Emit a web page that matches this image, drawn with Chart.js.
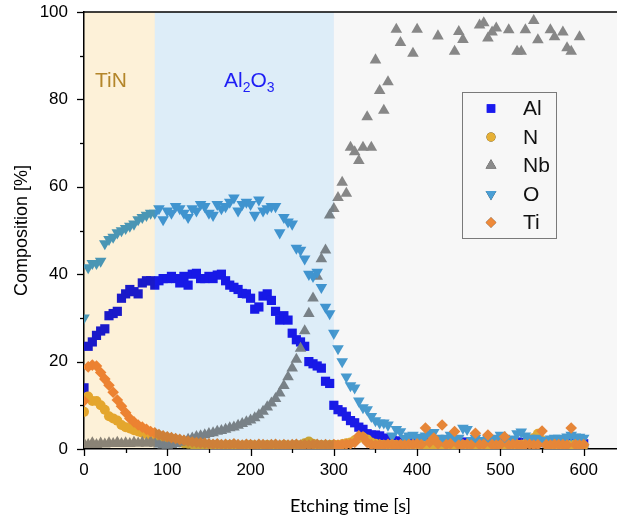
<!DOCTYPE html>
<html>
<head>
<meta charset="utf-8">
<script src="https://cdn.jsdelivr.net/npm/chart.js@4.4.1/dist/chart.umd.min.js"></script>
<style>
    html, body { margin: 0; padding: 0; background: #fff; }
    #wrap { width: 617px; height: 525px; }
</style>
</head>
<body>
<div id="wrap"><canvas id="myChartDepth" width="617" height="525"></canvas></div>
<script>
// etching time [s]
var time = [
    0, 5, 10, 15, 20, 25, 30, 35, 40, 45,
    50, 55, 60, 65, 70, 75, 80, 85, 90, 95,
    100, 105, 110, 115, 120, 125, 130, 135, 140, 145,
    150, 155, 160, 165, 170, 175, 180, 185, 190, 195,
    200, 205, 210, 215, 220, 225, 230, 235, 240, 245,
    250, 255, 260, 265, 270, 275, 280, 285, 290, 295,
    300, 305, 310, 315, 320, 325, 330, 335, 340, 345,
    350, 355, 360, 365, 370, 375, 380, 385, 390, 395,
    400, 405, 410, 415, 420, 425, 430, 435, 440, 445,
    450, 455, 460, 465, 470, 475, 480, 485, 490, 495,
    500, 505, 510, 515, 520, 525, 530, 535, 540, 545,
    550, 555, 560, 565, 570, 575, 580, 585, 590, 595,
    600
];

// composition [%]
var al = [
    14, 23.5, 24.5, 26, 27, 27.5, 30.5, 31, 31.5, 34.5,
    35.5, 36.5, 36, 35.5, 38, 38.5, 38.5, 37.5, 38.5, 39,
    39, 39.5, 39, 38, 39.5, 37.5, 40, 40.2, 39, 39,
    39.5, 39, 39.8, 40, 38.5, 37.5, 37, 36.5, 35.6, 35.5,
    34.5, 32, 32.5, 35, 35.5, 34, 31.5, 29.5, 30.5, 29.5,
    26.5, 25, 24.5, 23.5, 20, 19.5, 19, 18.5, 15.5, 15,
    10, 9, 8.5, 7.5, 6.5, 6, 5, 4.5, 3.5, 3.2,
    3.2, 3, 2.5, 2.2, 2, 1.8, 1.8, 1.6, 1.5, 1.7,
    1.5, 1.4, 1.6, 1.5, 1.3, 1.5, 1.6, 1.4, 1.5, 1.3,
    1.5, 1.4, 1.6, 1.5, 1.4, 1.3, 1.5, 1.6, 1.4, 1.5,
    1.5, 1.4, 1.3, 1.5, 1.6, 1.4, 1.5, 1.3, 1.4, 1.5,
    1.6, 1.4, 1.5, 1.3, 1.4, 1.5, 1.4, 1.6, 1.3, 1.5,
    1.2
];

var n = [
    8.5, 12, 11, 11, 10, 9, 7.5, 7, 6.5, 5.5,
    5, 4.7, 4.3, 4, 3.7, 3.4, 3.1, 2.8, 2.5, 2.3,
    2.1, 1.9, 1.7, 1.5, 1.3, 1.2, 1.1, 1, 0.9, 0.9,
    0.8, 0.9, 0.8, 0.7, 0.8, 0.9, 0.8, 0.7, 0.8, 0.8,
    0.9, 0.8, 0.7, 0.8, 0.9, 0.8, 0.8, 0.7, 0.9, 0.8,
    0.8, 0.9, 0.8, 1.3, 1.7, 1.2, 0.8, 0.9, 0.8, 0.9,
    1, 0.9, 1.1, 1.3, 1.5, 2, 2.5, 2.7, 2.2, 1.5,
    1.2, 1, 0.9, 0.8, 1, 0.9, 0.8, 1, 0.9, 0.8,
    0.9, 1, 0.8, 0.9, 1, 0.8, 0.9, 1.1, 0.9, 0.8,
    1, 0.9, 0.8, 1, 0.9, 1.1, 0.8, 0.9, 1, 0.9,
    0.8, 1, 0.9, 1.1, 1, 0.9, 1.2, 1.5, 2.5, 3.5,
    2, 1.1, 0.9, 1, 0.8, 0.9, 1, 0.9, 1.1, 0.9,
    0.8
];

var nb = [
    1.2, 1, 1.4, 1, 1.3, 1.1, 1.4, 1.2, 1.5, 1.2,
    1.4, 1.2, 1.5, 1.3, 1.5, 1.3, 1.6, 1.3, 1.1, 0.9,
    0.8, 1, 1.2, 1.5, 1.8, 2.2, 2.5, 2.8, 3, 3.2,
    3.5, 3.7, 4, 4.2, 4.5, 4.8, 5, 5.4, 5.8, 6.2,
    6.6, 7.1, 7.8, 8.6, 9.6, 10.5, 11.5, 12.8, 14.5, 16.5,
    18.5, 20.5, 23, 27, 31, 34.5, 39.5, 43.5, 45.5, 53.5,
    55, 57.5, 61, 58.5, 69, 68, 66, 69, 76, 69,
    89, 82, 77.5, 84, null, 96, 93, null, null, 90.5,
    96, null, null, null, null, 94.5, null, null, null, 91,
    95.5, 93.7, null, null, null, 97, 97.5, 94, 95.4, 96.3,
    null, null, 95.9, null, 91, 91, 95.9, null, 98, 93.6,
    null, null, 95.9, 94.3, null, 95.4, 91.8, 91, null, 94.3,
    null
];

var o = [
    30, 41.5, 42.5, 42.5, 43, 47, 48, 48.5, 49.5, 50,
    50.5, 51, 51.5, 52.5, 53, 53.5, 54, 54, 55, 52.5,
    54.5, 54, 55.5, 55, 54, 53, 55, 54.5, 56, 55.5,
    54, 53.5, 56, 55, 55.5, 56.5, 57.5, 54.5, 56, 56.5,
    56, 53.5, 57, 54.5, 55, 55.5, 55.5, 49.5, 53, 52,
    51.5, 46, 45.5, 43.5, 40, 39.5, 40.5, 37, 32.5, 31,
    26.5, 23, 20, 16.5, 14.5, 14, 11, 9.5, 9, 7.5,
    6.5, 6, 6, 5.5, 3, 4.5, 4, 2.5, 3, 3.2,
    2.7, 2.5, 3, 3.5, 3.8, 2.5, 2, 2.5, 3.2, 2.2,
    2.5, 4.8, 4.5, 2, 2.5, 1.6, 2, 2.3, 2, 2.5,
    3.2, 2.5, 2, 2.3, 3.5, 3.9, 3, 2.5, 2.2, 2.5,
    2, 2, 2.3, 2.5, 2.5, 2.2, 2.8, 3.2, 2.8, 2.7,
    2.5
];

var ti = [
    11, 18.8, 19.2, 19, 17.5, 16, 14.6, 13, 11.2, 9.8,
    8.3, 7, 6.2, 5.5, 5, 4.5, 4, 3.7, 3.3, 3,
    2.8, 2.6, 2.4, 2.2, 2, 1.8, 1.6, 1.5, 1.4, 1.3,
    1.2, 1.1, 1.2, 1, 1.1, 1, 1.2, 1, 0.9, 1.1,
    1, 0.9, 1.1, 1, 0.9, 1, 1.1, 0.9, 1, 0.9,
    1, 1.1, 0.9, 1, 0.9, 1, 1.1, 0.9, 1, 0.9,
    1, 0.9, 1, 1.1, 1.2, 1.5, 3, 2.8, 1.5, 1,
    0.9, 1, 0.9, 1.1, 1, 0.9, 1, 0.9, 1.1, 1,
    1.2, 1, 4.8, 1.5, 2.5, 1.2, 5.5, 1, 1.2, 4,
    0.9, 1, 1.1, 0.9, 3.6, 1, 1.1, 3.2, 1, 0.9,
    1, 2.8, 0.9, 1.1, 1, 0.9, 1, 1.1, 0.9, 1,
    4.1, 1, 0.9, 1.1, 1, 1, 0.9, 4.8, 1, 0.9,
    1
];

var xTicks = [0, 50, 100, 150, 200, 250, 300, 350, 400, 450, 500, 550, 600];
var yTicks = [0, 10, 20, 30, 40, 50, 60, 70, 80, 90, 100];

// layer regions
var layerNames = ['TiN', 'Al2O3', ''];
var layerFrom = [0, 85, 300];
var layerTo = [85, 300, 640];
var layerColors = ['#fdf1d8', '#ddedf8', '#f7f7f7'];

var seriesNames = ['Al', 'N', 'Nb', 'O', 'Ti'];
var seriesColors = ['#1a1aee', '#e6b035', '#8b8b8b', '#4a9fd5', '#ee8a3a'];
var seriesStyles = ['rect', 'circle', 'triangle', 'triangle', 'rectRot'];
var seriesRotation = [0, 0, 0, 180, 0];
var seriesRadius = [6.5, 5, 6.7, 6.7, 5.8];

var toPoints = (vals) => time.map((t, i) => ({ x: t, y: vals[i] })).filter(p => p.y !== null);

var seriesData = [al, n, nb, o, ti];

var layerPlugin = {
    id: 'layers',
    beforeDraw: function (chart) {
        var ctx = chart.ctx;
        ctx.save();
        ctx.fillStyle = '#fff';
        ctx.fillRect(0, 0, chart.width, chart.height);
        ctx.restore();
    },
    afterDatasetsDraw: function (chart) {
        var ctx = chart.ctx;
        var a = chart.chartArea;
        var x = chart.scales.x;
        ctx.save();
        // shaded layers sit on top of the markers (multiply)
        ctx.globalCompositeOperation = 'multiply';
        for (var i = 0; i < layerFrom.length; i++) {
            var x0 = x.getPixelForValue(layerFrom[i]);
            var x1 = Math.min(x.getPixelForValue(layerTo[i]), a.right);
            ctx.fillStyle = layerColors[i];
            ctx.fillRect(x0, a.top, x1 - x0, a.bottom - a.top);
        }
        ctx.restore();
    },
    afterDraw: function (chart) {
        var ctx = chart.ctx;
        var a = chart.chartArea;
        var x = chart.scales.x;
        var y = chart.scales.y;
        ctx.save();

        // top frame line
        ctx.strokeStyle = '#000';
        ctx.lineWidth = 1.5;
        ctx.beginPath();
        ctx.moveTo(a.left, a.top);
        ctx.lineTo(a.right, a.top);
        ctx.stroke();

        // tick marks, major and minor
        ctx.lineWidth = 1.3;
        xTicks.forEach(function (v) {
            var px = Math.round(x.getPixelForValue(v)) + 0.5;
            var len = v % 100 === 0 ? 7 : 4;
            ctx.beginPath();
            ctx.moveTo(px, a.bottom);
            ctx.lineTo(px, a.bottom + len);
            ctx.stroke();
        });
        yTicks.forEach(function (v) {
            var py = Math.round(y.getPixelForValue(v)) + 0.5;
            var len = v % 20 === 0 ? 7 : 4;
            ctx.beginPath();
            ctx.moveTo(a.left - len, py);
            ctx.lineTo(a.left, py);
            ctx.stroke();
        });

        // layer labels
        ctx.textBaseline = 'alphabetic';
        ctx.textAlign = 'left';
        ctx.font = '21px "Liberation Sans"';
        ctx.fillStyle = '#b4862a';
        ctx.fillText(layerNames[0], 95, 87);

        ctx.fillStyle = '#1e1ef5';
        var cx = 224;
        ctx.font = '21px "Liberation Sans"';
        ctx.fillText('Al', cx, 87);
        cx += ctx.measureText('Al').width;
        ctx.font = '14px "Liberation Sans"';
        ctx.fillText('2', cx, 92);
        cx += ctx.measureText('2').width;
        ctx.font = '21px "Liberation Sans"';
        ctx.fillText('O', cx, 87);
        cx += ctx.measureText('O').width;
        ctx.font = '14px "Liberation Sans"';
        ctx.fillText('3', cx, 92);

        // legend box
        ctx.strokeStyle = '#7a7a7a';
        ctx.lineWidth = 1;
        ctx.strokeRect(462.5, 92.5, 94, 146);
        var rowY = [108.5, 137, 165.5, 194, 222.5];
        ctx.font = '21px "Liberation Sans"';
        ctx.textBaseline = 'middle';
        for (var i = 0; i < seriesNames.length; i++) {
            Chart.helpers.drawPoint(ctx, {
                pointStyle: seriesStyles[i],
                radius: seriesRadius[i] - 0.5,
                rotation: seriesRotation[i],
                borderWidth: 0
            }, 491, rowY[i]);
            ctx.fillStyle = seriesColors[i];
            ctx.fill();
            ctx.fillStyle = '#111';
            ctx.fillText(seriesNames[i], 523, rowY[i] + 1);
        }
        ctx.restore();
    }
};

var datasets = seriesNames.map(function (name, i) {
    return {
        label: name,
        data: toPoints(seriesData[i]),
        pointStyle: seriesStyles[i],
        pointRotation: seriesRotation[i],
        pointRadius: seriesRadius[i],
        pointHoverRadius: seriesRadius[i],
        pointBackgroundColor: seriesColors[i],
        pointBorderWidth: 0,
        pointBorderColor: seriesColors[i],
        showLine: false,
        order: 5 - i
    };
});

Chart.defaults.font.family = '"Liberation Sans", Arial, sans-serif';
Chart.defaults.color = '#000';

var ctx = document.getElementById('myChartDepth').getContext('2d');

window.myChart = new Chart(ctx, {
    type: 'scatter',
    data: { datasets: datasets },
    options: {
        responsive: false,
        animation: false,
        events: [],
        layout: {
            autoPadding: false,
            padding: { left: 0, right: 0, top: 12, bottom: 0 }
        },
        plugins: {
            legend: { display: false },
            tooltip: { enabled: false }
        },
        scales: {
            x: {
                type: 'linear',
                min: 0,
                max: 640,
                afterBuildTicks: function (s) {
                    s.ticks = xTicks.map(v => ({ value: v }));
                },
                afterFit: function (s) {
                    s.height = 76;
                    s.paddingLeft = 0;
                    s.paddingRight = 0;
                },
                grid: { drawOnChartArea: false, drawTicks: false },
                border: { display: true, color: '#000', width: 1.5 },
                ticks: {
                    padding: 11,
                    font: { size: 17 },
                    color: '#000',
                    maxRotation: 0,
                    autoSkip: false,
                    callback: function (v) { return v % 100 === 0 ? v : ''; }
                },
                title: {
                    display: true,
                    text: 'Etching time [s]',
                    font: { family: 'Lato', size: 18 },
                    color: '#000',
                    padding: { top: 0, bottom: 8 }
                }
            },
            y: {
                type: 'linear',
                min: 0,
                max: 100,
                afterBuildTicks: function (s) {
                    s.ticks = yTicks.map(v => ({ value: v }));
                },
                afterFit: function (s) {
                    s.width = 84;
                    s.paddingTop = 0;
                    s.paddingBottom = 0;
                },
                grid: { drawOnChartArea: false, drawTicks: false },
                border: { display: true, color: '#000', width: 1.5 },
                ticks: {
                    padding: 16,
                    font: { size: 17 },
                    color: '#000',
                    autoSkip: false,
                    callback: function (v) { return v % 20 === 0 ? v : ''; }
                },
                title: {
                    display: true,
                    text: 'Composition [%]',
                    font: { size: 18 },
                    color: '#000',
                    padding: { top: 11, bottom: 0 }
                }
            }
        }
    },
    plugins: [layerPlugin]
});
</script>
</body>
</html>
